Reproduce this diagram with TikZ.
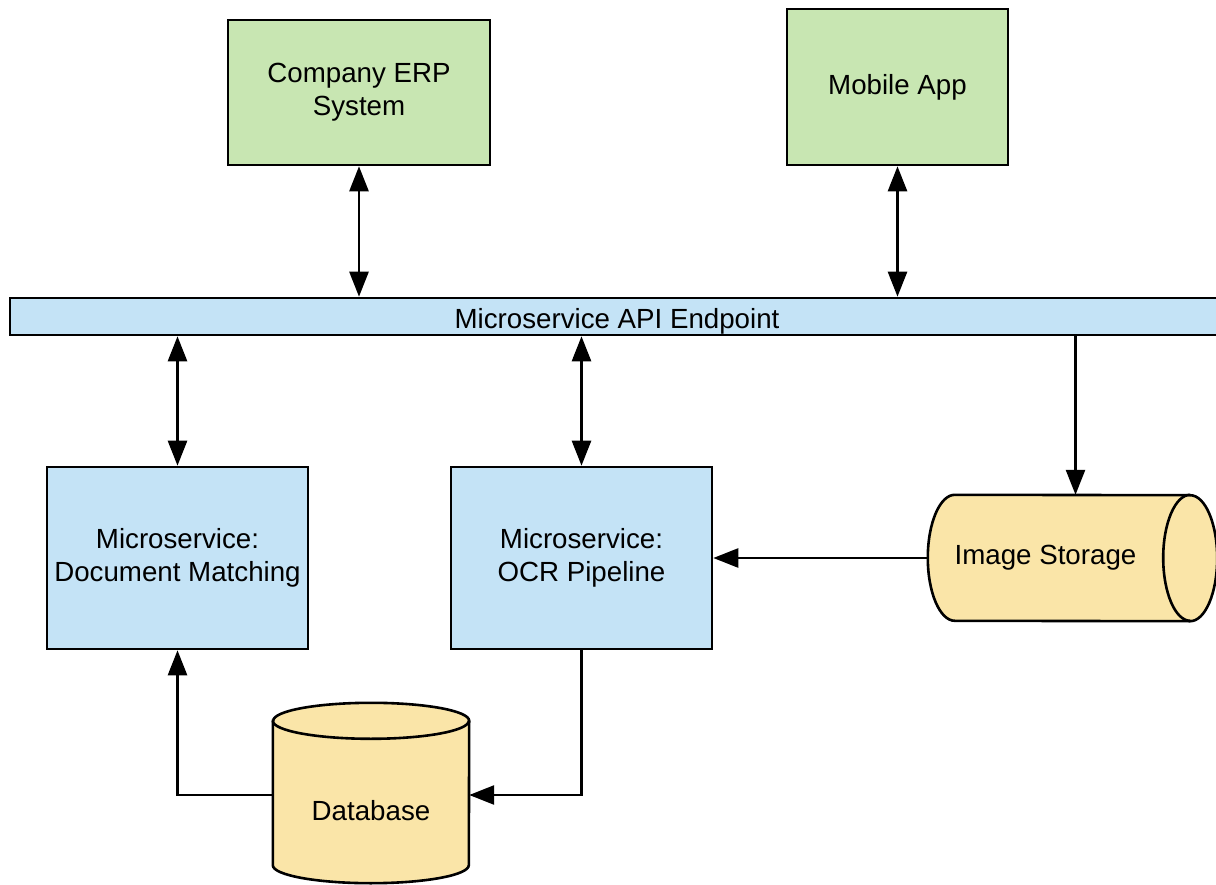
\documentclass[tikz,border=0pt]{standalone}
\usepackage{fontspec}
\setmainfont{Liberation Sans}
\usetikzlibrary{arrows.meta}
\definecolor{erpgreen}{HTML}{C8E6B2}
\definecolor{svcblue}{HTML}{C4E3F6}
\definecolor{storeyellow}{HTML}{FAE5A8}
\begin{document}
\begin{tikzpicture}[x=1pt, y=-1pt,
  box/.style={draw, line width=2.6pt, align=center, inner sep=0pt, font=\fontsize{27.7}{33}\selectfont},
  cylbox/.style={inner sep=0pt, font=\fontsize{27.7}{33}\selectfont},
  cyl/.style={draw, line width=2.6pt, fill=storeyellow},
  arr/.style={line width=2.6pt, >={Triangle[length=25pt, width=19pt]}}]
\useasboundingbox (0,0) rectangle (1216,885);
\node[box, fill=erpgreen, minimum width=262pt, minimum height=145pt] (erp) at (359,92.5){Company ERP\\System};
\node[box, fill=erpgreen, minimum width=221pt, minimum height=156pt] (app) at (897.5,87){Mobile App};
\node[box, fill=svcblue, minimum width=1214pt, minimum height=37pt, text height=31pt, text depth=6pt] (api) at (617,316.5){Microservice API Endpoint};
\node[box, fill=svcblue, minimum width=261pt, minimum height=182pt] (match) at (177.5,558){Microservice:\\Document Matching};
\node[box, fill=svcblue, minimum width=261pt, minimum height=182pt] (ocr) at (581.5,558){Microservice:\\OCR Pipeline};
% cylinders: nodes hold the body, outlines drawn round them
\node[cylbox, minimum width=196pt, minimum height=144pt] (db) at (371,811){};
\draw[cyl] ([yshift=18pt]db.north west) -- ([yshift=18pt]db.south west)
  arc[start angle=180, end angle=360, x radius=98pt, y radius=18pt]
  -- ([yshift=18pt]db.north east)
  arc[start angle=0, end angle=180, x radius=98pt, y radius=18pt] -- cycle;
\draw[line width=2.6pt] ([yshift=18pt]db.north west) arc[start angle=180, end angle=360, x radius=98pt, y radius=18pt];
\node[cylbox] at (db.center){Database};
\node[cylbox, minimum width=235pt, minimum height=126pt] (img) at (1045.5,558){};
\draw[cyl] ([xshift=27pt]img.north west)
  arc[start angle=90, end angle=270, x radius=27pt, y radius=63pt]
  -- ([xshift=27pt]img.south east)
  arc[start angle=270, end angle=450, x radius=27pt, y radius=63pt] -- cycle;
\draw[line width=2.6pt] ([xshift=27pt]img.north east) arc[start angle=90, end angle=270, x radius=27pt, y radius=63pt];
\node[cylbox] at (img.center){Image Storage};
\coordinate (imgin) at ([xshift=30pt]img.north);
\coordinate (dbmid) at ([yshift=16pt]db.center);
\draw[arr, <->](erp.south) -- (erp.south |- api.north);
\draw[arr, <->](app.south) -- (app.south |- api.north);
\draw[arr, <->](match.north) -- (match.north |- api.south);
\draw[arr, <->](ocr.north) -- (ocr.north |- api.south);
\draw[arr, ->](api.south -| imgin) -- (imgin);
\draw[arr, ->](img.west) -- (ocr.east);
\draw[arr, ->](ocr.south) |- (dbmid -| db.east);
\draw[arr, ->](dbmid -| db.west) -| (match.south);
\end{tikzpicture}
\end{document}
